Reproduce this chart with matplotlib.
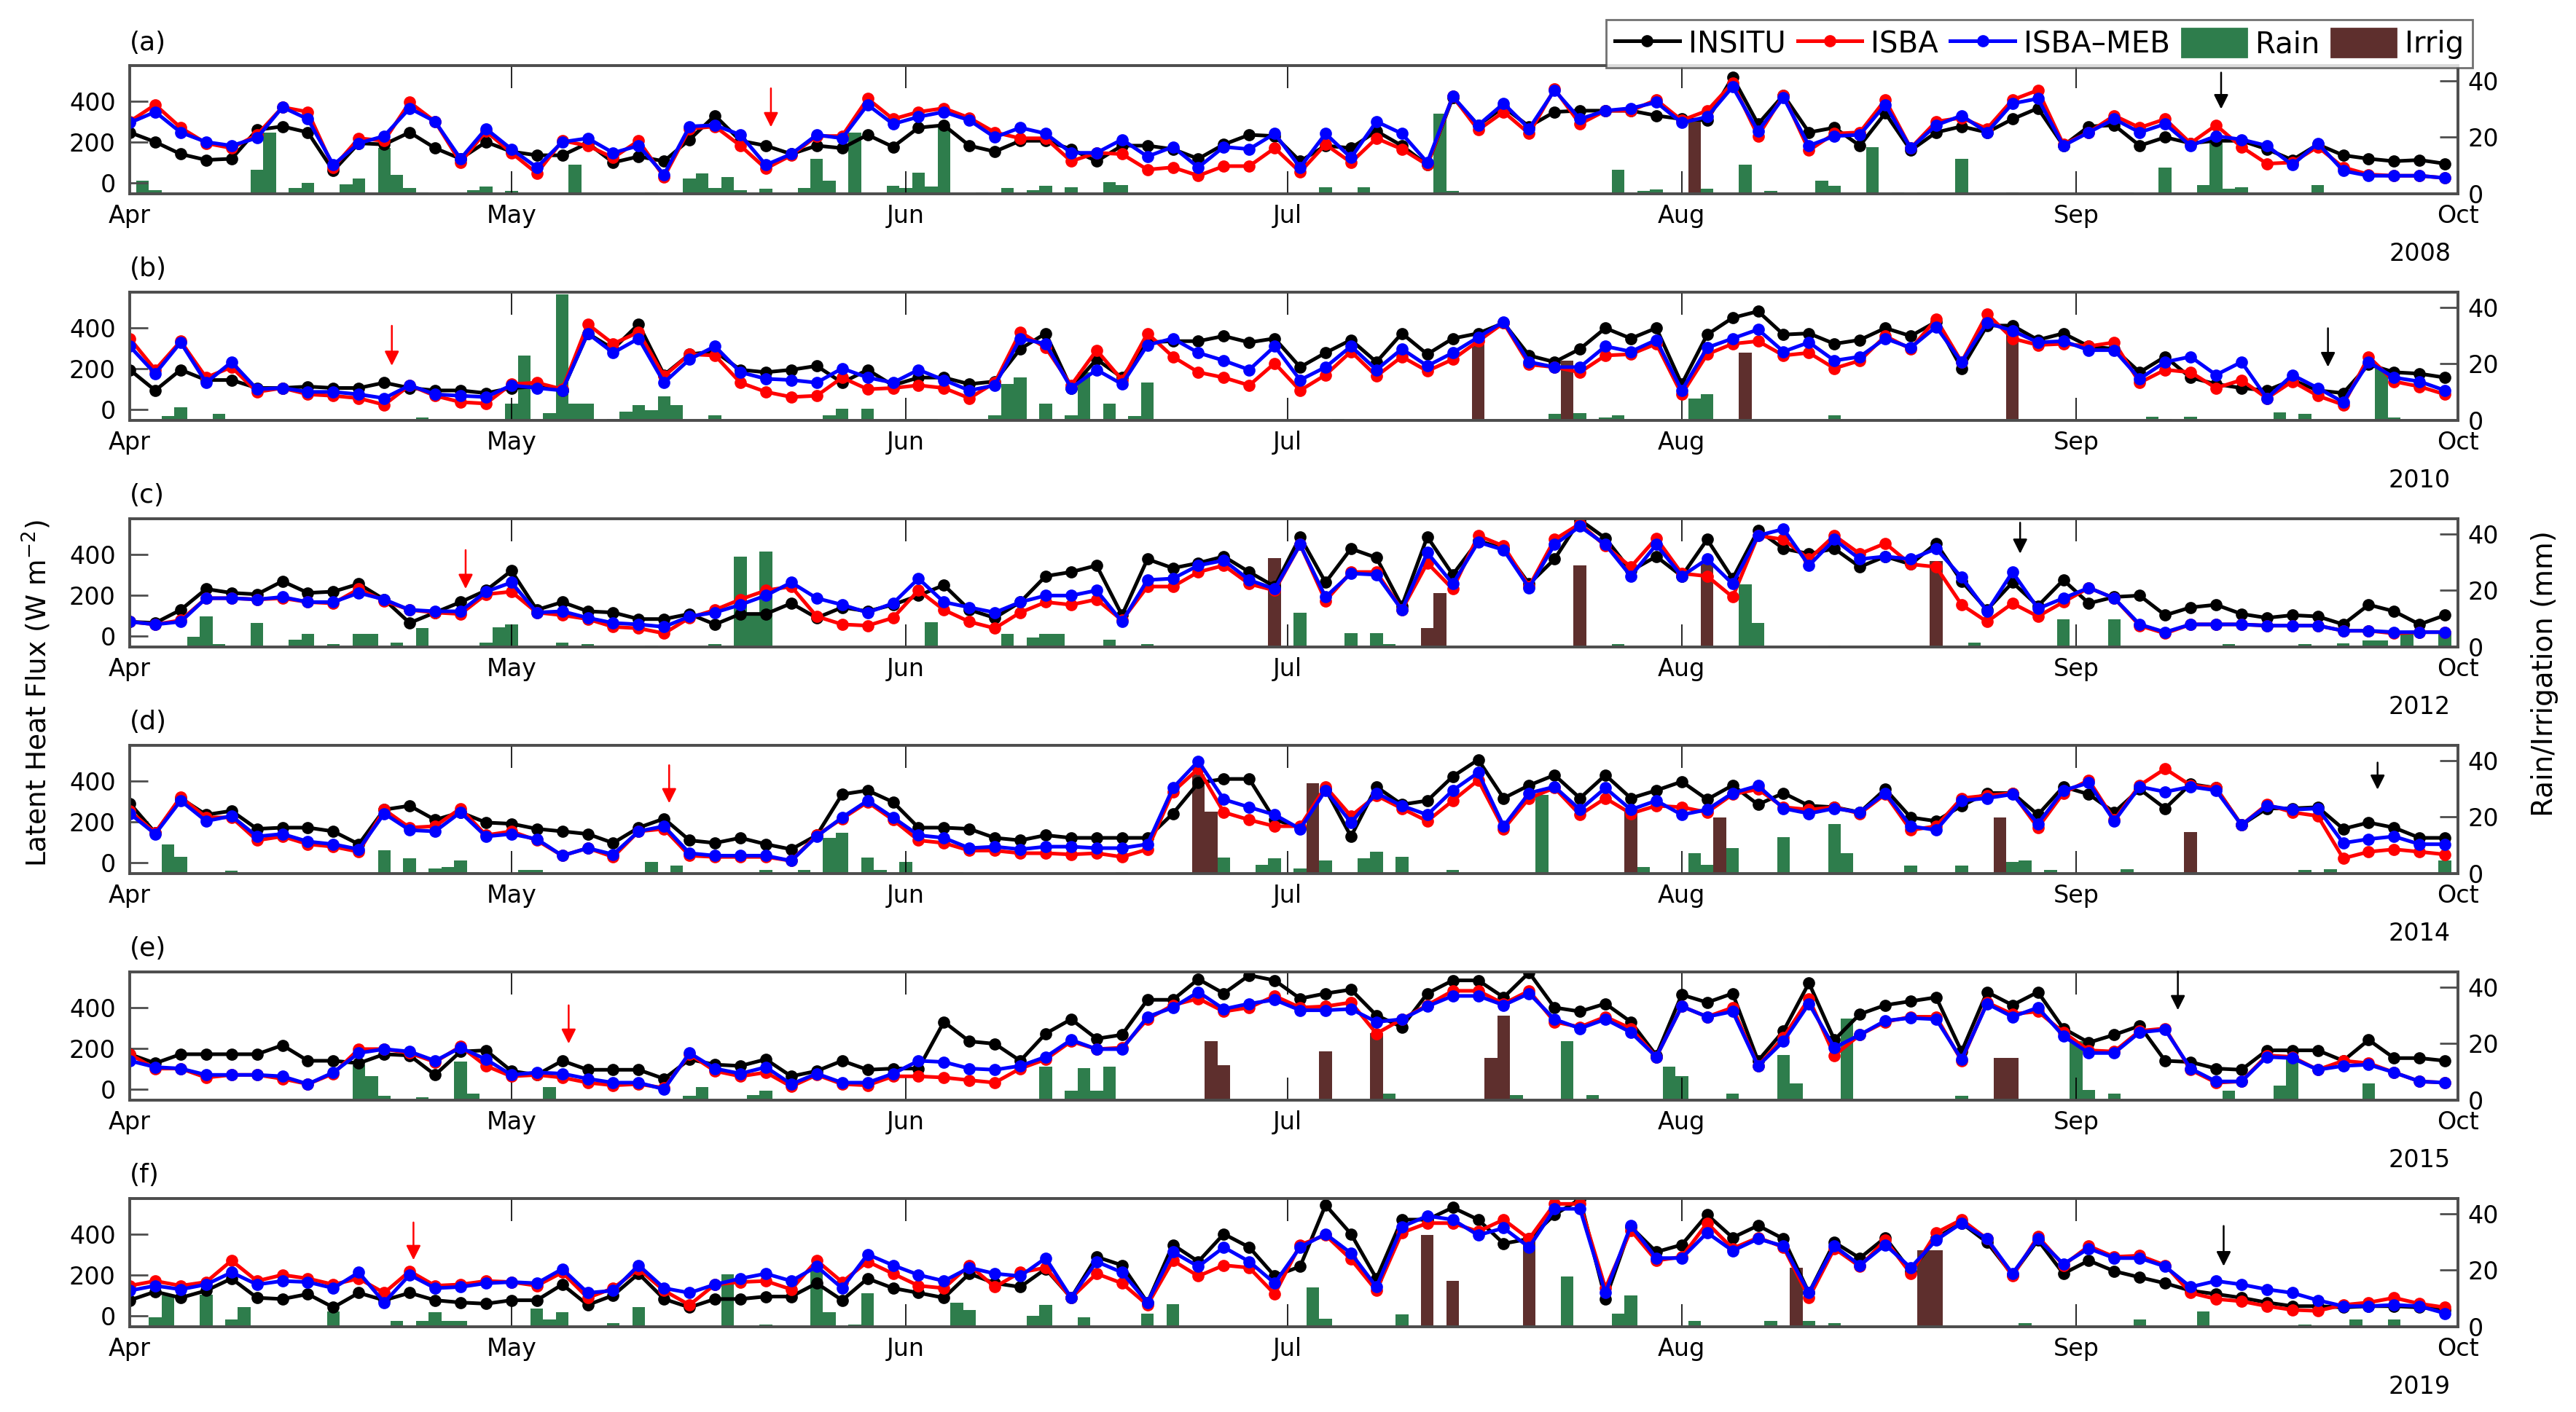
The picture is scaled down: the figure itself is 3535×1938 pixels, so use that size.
import numpy as np
import matplotlib
matplotlib.use('Agg')
import matplotlib.pyplot as plt
from matplotlib.lines import Line2D
from matplotlib.patches import Patch

plt.rcParams.update({'font.family': 'DejaVu Sans', 'font.size': 12})

# x axis: days since 1 April, one value every 2 days
days = np.arange(0, 183, 2)
month_days = [0, 30, 61, 91, 122, 153, 183]
month_labels = ['Apr', 'May', 'Jun', 'Jul', 'Aug', 'Sep', 'Oct']

# ---- 2008 (a)
insitu_2008 = [247,200,141,112,118,259,276,247,59,194,188,247,170,118,200,153,135,135,194,100,129,106,212,329,206,182,141,182,170,
               235,176,270,282,182,153,206,206,165,106,182,182,165,118,188,235,229,106,182,170,253,182,88,417,282,370,276,347,353,353,353,329,312,
               306,517,288,429,247,270,182,341,159,247,276,247,312,365,182,276,282,182,223,194,206,206,165,112,188,135,118,106,112,94]
isba_2008 = [300,382,270,194,170,235,370,347,76,218,206,394,300,100,253,147,47,206,182,123,206,29,265,276,182,70,135,229,229,
             412,312,347,365,318,247,218,218,106,147,141,65,76,35,82,82,170,53,188,100,218,165,88,423,259,347,241,459,288,353,353,406,306,
             353,488,229,429,159,241,247,406,170,300,318,265,406,453,188,247,329,270,312,194,282,176,94,100,176,76,41,35,35,24]
meb_2008 = [294,347,247,200,182,220,370,312,88,194,229,365,300,118,265,165,76,200,218,147,182,41,276,282,235,88,141,235,218,
            382,288,323,347,306,223,270,241,147,147,212,129,176,76,176,165,241,76,241,123,300,241,100,423,282,388,265,453,312,353,365,394,294,
            323,470,253,417,182,229,235,382,170,282,329,247,388,412,182,247,312,247,288,182,229,212,182,88,194,59,35,35,35,24]
rain_day_2008 = [1,2,10,11,13,14,17,18,20,21,22,23,27,28,30,35,41,44,45,46,47,48,50,53,54,55,57,60,61,62,
                 63,64,67,69,71,72,74,77,78,94,97,103,104,117,119,120,124,127,129,133,134,137,139,141,144,148,157,160,163,164,165,166,172]
rain_mm_2008 = [4.7,1.3,8.5,21.7,2.0,3.8,3.4,5.5,16.2,6.8,2.0,0.4,1.3,2.6,1.1,10.2,0.4,5.5,7.2,2.1,6.0,1.3,1.9,2.1,12.3,4.7,21.7,2.7,2.1,7.5,
                2.6,23.8,0.4,2.1,1.3,2.7,2.3,4.1,3.2,2.4,2.4,28.5,0.9,8.5,1.0,1.5,1.7,10.2,1.0,4.7,2.7,16.6,0.4,0.4,12.5,0.4,0.4,9.2,3.2,18.0,1.7,2.4,3.2]
irr_day_2008 = [123]
irr_mm_2008 = [26.6]

# ---- 2010 (b)
insitu_2010 = [194,93,194,144,144,105,105,112,105,105,131,105,93,93,80,105,112,93,372,296,417,169,270,283,194,182,194,213,131,194,
               118,156,156,124,137,296,372,105,245,156,328,334,334,359,328,347,
               207,277,340,232,372,270,347,372,423,264,232,296,398,347,398,124,366,448,480,366,372,321,340,398,359,429,201,410,410,340,
               372,309,296,182,258,156,124,105,93,144,93,80,220,182,175,156]
isba_2010 = [347,194,334,156,207,86,105,74,67,55,23,118,67,36,29,124,131,99,417,321,378,163,270,264,131,86,61,67,156,99,
             105,118,105,55,131,378,302,118,290,144,372,258,182,156,118,226,
             93,169,283,163,258,188,245,334,423,220,207,182,264,270,321,74,270,321,334,264,277,201,239,359,296,442,232,467,347,315,
             321,309,328,131,194,182,105,144,55,137,67,23,258,137,112,74]
meb_2010 = [309,175,328,131,232,99,105,86,86,74,55,118,74,67,61,118,105,93,372,277,347,131,245,309,182,150,144,131,201,156,
            131,194,144,93,118,347,321,105,194,124,315,347,277,239,194,309,
            144,207,309,194,296,213,277,353,429,232,207,207,309,283,340,93,302,347,391,283,328,239,258,347,302,404,232,423,385,328,
            334,290,290,150,232,258,169,232,55,169,105,36,232,156,137,93]
rain_day_2010 = [3,4,7,23,30,31,33,34,35,36,38,39,40,41,42,43,46,55,56,58,61,62,63,68,69,70,72,74,75,77,
                 79,80,95,112,114,116,117,123,124,134,141,159,160,162,169,171,177,178]
rain_mm_2010 = [1.4,4.6,2.3,1.1,6.0,23.0,2.5,44.6,6.0,6.0,0.5,3.0,5.5,3.7,8.6,5.5,1.8,1.8,4.0,4.0,0.5,0.5,0.5,1.8,12.9,15.2,6.0,1.8,17.0,6.0,
                1.4,13.3,0.5,2.3,2.5,0.9,1.8,7.8,9.2,1.8,0.5,1.2,0.5,1.2,2.8,2.3,18.4,0.9]
irr_day_2010 = [106,113,127,148]
irr_mm_2010 = [27.1,21.2,23.9,34.0]

# ---- 2012 (c)
insitu_2012 = [70,64,128,230,211,204,268,211,217,255,179,64,115,166,223,319,128,166,121,115,83,83,108,57,108,108,160,89,140,121,
               153,198,249,128,89,166,293,313,345,102,376,332,357,389,313,242,
               485,262,427,383,147,485,300,466,427,255,376,568,478,319,389,293,472,281,517,427,402,427,338,389,351,453,268,128,262,147,
               274,160,191,198,102,140,153,108,89,102,96,57,153,121,57,102]
isba_2012 = [70,57,77,185,185,179,185,166,160,230,172,128,115,108,204,217,115,102,83,45,38,13,89,128,179,223,242,96,57,51,
             89,223,128,70,38,115,166,153,179,77,242,242,313,345,255,223,
             447,172,313,313,128,357,230,491,440,242,472,549,440,338,478,306,293,191,491,472,376,491,402,453,351,338,153,70,160,96,
             166,236,185,51,13,57,57,57,51,51,51,26,26,13,19,19]
meb_2012 = [70,57,70,185,185,179,191,166,166,211,179,128,121,121,217,262,115,121,89,64,57,45,96,115,153,198,262,185,153,115,
            160,281,166,140,115,166,198,198,223,70,274,281,345,370,274,230,
            447,191,306,300,128,408,255,459,421,236,447,536,447,293,447,293,376,255,491,523,345,472,376,389,376,427,287,121,313,134,
            185,236,185,57,19,57,57,57,51,51,51,26,26,19,19,19]
rain_day_2012 = [5,6,7,10,13,14,16,18,19,21,23,28,29,30,34,36,41,46,48,49,50,63,69,71,72,73,77,80,92,96,
                 98,99,117,127,128,134,145,152,156,165,171,174,176,177,179,182]
rain_mm_2012 = [3.6,10.7,1.1,8.4,2.5,4.7,1.1,4.7,4.7,1.6,6.7,1.6,7.0,7.9,1.6,1.1,0.5,1.1,32.1,11.1,33.9,8.8,4.7,3.4,4.7,4.7,2.5,1.1,12.0,4.8,
                4.8,0.9,1.1,22.1,8.4,0.5,1.6,9.8,9.8,1.1,0.9,1.3,2.2,2.2,5.7,4.8]
irr_day_2012 = [90,102,103,114,124,142]
irr_mm_2012 = [31.6,6.6,19.2,29.0,29.5,30.4]

# ---- 2014 (d)
insitu_2014 = [290,146,315,234,253,165,171,171,153,90,259,278,209,246,196,190,165,153,140,96,171,215,109,96,121,90,65,134,334,353,
               296,171,171,165,121,109,134,121,121,121,121,240,390,409,409,210,
               171,359,128,371,284,303,421,503,315,378,428,315,428,315,353,396,309,378,284,340,278,271,246,359,221,203,278,340,340,234,
               371,334,246,359,265,384,365,184,265,265,271,165,196,171,121,121]
isba_2014 = [253,146,321,221,221,109,128,90,78,53,259,171,178,265,134,153,109,34,71,28,153,165,34,28,28,28,9,134,215,296,
             209,109,96,59,59,46,46,40,46,28,65,346,459,246,209,178,
             178,371,228,328,265,203,303,403,165,315,365,234,315,240,278,271,246,334,359,271,259,271,240,334,159,178,315,328,340,171,
             340,403,209,378,459,378,365,184,284,246,228,21,53,65,53,40]
meb_2014 = [240,140,303,203,228,128,140,103,90,65,240,159,153,246,128,140,115,34,71,40,153,178,46,34,34,34,9,128,221,303,
            221,134,121,71,78,65,78,78,71,71,90,365,496,309,271,234,
            165,353,196,340,278,234,353,440,178,340,371,259,365,259,303,234,259,340,376,265,240,265,246,340,178,159,303,315,334,190,
            353,390,203,371,346,371,353,184,278,259,265,96,115,128,90,90]
rain_day_2014 = [3,4,8,20,22,24,25,26,27,31,32,41,43,50,53,55,56,58,59,61,65,78,86,89,90,92,94,97,98,100,
                 104,111,119,123,124,126,130,134,135,140,144,148,149,151,157,171,173,182]
rain_mm_2014 = [10.3,5.8,0.9,8.1,5.4,1.8,2.2,4.5,0.4,1.3,1.3,4.0,2.9,1.2,1.3,12.6,14.4,5.7,1.3,4.0,0.4,0.4,5.7,3.1,5.4,1.8,4.5,5.4,7.6,5.8,
                1.3,27.9,2.2,7.2,3.1,9.0,13.0,17.5,7.2,2.7,2.7,4.0,4.5,1.2,1.6,1.2,1.6,4.5]
irr_day_2014 = [84,85,93,118,125,147,162]
irr_mm_2014 = [35.0,22.0,31.9,22.0,19.8,19.8,14.8]

# ---- 2015 (e)
insitu_2015 = [171,127,171,171,171,171,215,139,139,127,171,165,70,184,190,89,70,139,95,95,95,51,146,120,114,146,63,89,139,95,
               101,101,329,234,222,139,272,342,247,266,437,437,538,468,557,532,
               443,468,487,361,304,468,532,532,449,570,399,380,418,329,165,462,424,468,139,285,519,241,367,411,430,449,184,475,411,475,
               297,228,266,310,139,133,101,95,190,190,190,139,241,152,152,139]
isba_2015 = [171,101,101,57,70,70,51,25,76,196,196,177,133,209,114,63,70,57,32,19,25,6,171,89,63,82,13,70,25,19,
             63,63,57,44,32,101,146,234,196,203,342,411,443,380,399,456,
             399,405,424,272,342,411,481,481,418,481,329,304,354,297,158,405,354,399,114,253,443,165,266,329,354,354,139,424,367,380,
             278,190,184,285,297,95,32,38,165,158,95,139,127,82,38,32]
meb_2015 = [139,108,101,70,70,70,63,25,82,177,196,184,139,203,146,70,82,76,51,32,32,0,177,101,76,108,25,76,32,32,
            76,139,133,101,95,114,158,241,196,196,354,399,475,392,418,437,
            386,386,392,329,342,405,456,456,411,468,342,297,342,278,158,405,354,380,114,234,418,203,266,335,348,342,146,418,354,399,
            260,177,177,278,291,101,38,38,158,152,95,114,120,82,38,32]
rain_day_2015 = [18,19,20,23,26,27,31,33,44,45,49,50,52,72,74,75,76,77,99,109,
                 113,115,121,122,126,130,131,135,144,153,154,156,165,169,170,176]
rain_mm_2015 = [12.3,8.6,1.4,0.9,13.6,2.3,0.5,4.5,1.4,4.5,1.8,3.2,0.5,11.8,3.2,11.4,3.2,11.8,2.3,1.8,
                20.9,1.8,11.8,8.6,2.3,15.9,5.9,29.0,1.4,20.9,3.6,2.3,3.2,5.0,15.5,5.9]
irr_day_2015 = [85,86,94,98,107,108,147,148]
irr_mm_2015 = [20.9,12.3,17.3,23.6,15.0,30.0,15.0,15.0]

# ---- 2019 (f)
insitu_2019 = [76,118,88,123,182,88,82,106,41,112,76,112,76,65,59,76,76,153,53,100,206,82,41,82,82,94,94,159,76,182,
               135,112,88,206,159,141,229,88,288,247,65,347,265,400,335,194,
               241,541,400,182,470,470,529,470,353,376,494,570,82,435,312,347,494,382,441,376,112,359,282,382,218,382,453,359,200,370,
               206,270,218,188,159,123,106,88,65,47,47,41,47,47,41,29]
isba_2019 = [147,170,147,165,270,170,200,182,153,182,112,218,147,153,170,165,147,212,88,135,229,123,53,153,165,170,129,270,165,265,
             206,147,135,247,141,212,235,88,206,159,53,270,194,247,235,106,
             347,394,276,123,406,453,453,412,470,376,547,547,135,418,270,288,453,329,382,335,88,329,241,370,206,406,470,376,194,388,
             247,341,288,294,247,112,82,71,47,29,24,53,65,88,59,41]
meb_2019 = [123,147,129,153,212,153,170,165,135,212,65,200,135,141,159,165,159,229,112,123,247,135,112,153,182,206,170,241,135,300,
            247,200,170,235,206,194,282,88,265,212,65,312,241,335,265,159,
            335,400,306,141,435,488,470,394,429,335,523,523,112,441,282,282,406,318,376,341,112,341,247,347,235,370,453,376,206,376,
            253,329,282,282,241,141,170,153,129,112,76,47,47,53,47,12]
rain_day_2019 = [2,3,6,8,9,16,21,23,24,25,26,32,33,34,38,40,47,50,54,55,57,58,65,66,71,72,75,80,82,93,
                 94,100,110,113,117,118,123,129,132,134,149,158,163,171,175,178]
rain_mm_2019 = [3.4,11.0,11.4,2.5,6.8,5.5,2.1,2.1,5.1,2.1,2.1,6.4,2.5,5.1,1.3,6.8,18.6,0.8,19.9,5.1,0.8,11.9,8.5,5.9,3.8,7.6,3.4,4.7,8.0,14.0,
                2.7,4.4,3.0,17.8,4.7,11.0,2.1,2.1,1.9,1.3,1.3,2.5,5.3,0.7,2.5,2.5]
irr_day_2019 = [102,104,110,131,141,142]
irr_mm_2019 = [32.6,16.1,31.8,20.8,27.1,27.1]

# arrows: day, start and end (W m-2)
red_arrow_day = [50.4, 20.6, 26.4, 42.4, 34.5, 22.3]
red_arrow_from = [482, 429, 440, 496, 430, 476]
red_arrow_to = [253, 194, 211, 271, 203, 253]
blk_arrow_day = [164.4, 172.8, 148.6, 176.7, 161.0, 164.6]
blk_arrow_from = [559, 417, 574, 509, 595, 459]
blk_arrow_to = [341, 188, 383, 337, 367, 223]

panel_tags = ['(a)', '(b)', '(c)', '(d)', '(e)', '(f)']
years = ['2008', '2010', '2012', '2014', '2015', '2019']
insitu = [insitu_2008, insitu_2010, insitu_2012, insitu_2014, insitu_2015, insitu_2019]
isba = [isba_2008, isba_2010, isba_2012, isba_2014, isba_2015, isba_2019]
meb = [meb_2008, meb_2010, meb_2012, meb_2014, meb_2015, meb_2019]
rain_day = [rain_day_2008, rain_day_2010, rain_day_2012, rain_day_2014, rain_day_2015, rain_day_2019]
rain_mm = [rain_mm_2008, rain_mm_2010, rain_mm_2012, rain_mm_2014, rain_mm_2015, rain_mm_2019]
irr_day = [irr_day_2008, irr_day_2010, irr_day_2012, irr_day_2014, irr_day_2015, irr_day_2019]
irr_mm = [irr_mm_2008, irr_mm_2010, irr_mm_2012, irr_mm_2014, irr_mm_2015, irr_mm_2019]

c_rain = '#2e7d4c'
c_irr = '#5e2f2d'
spine_c = '0.3'
lw, ms = 1.8, 5.0

fig = plt.figure(figsize=(17.675, 9.69), dpi=200)
left, width = 79/1568, 1417/1568
h = 78/860

for i in range(6):
    top = 1 - (40 + 138*i)/860
    ax = fig.add_axes([left, top - h, width, h])
    ax2 = ax.twinx()
    ax2.bar(rain_day[i], rain_mm[i], width=1.0, color=c_rain)
    ax2.bar(irr_day[i], irr_mm[i], width=1.0, color=c_irr)
    ax.plot(days, insitu[i], '-o', color='k', lw=lw, ms=ms)
    ax.plot(days, isba[i], '-o', color='#ff0000', lw=lw, ms=ms)
    ax.plot(days, meb[i], '-o', color='#0000ff', lw=lw, ms=ms)
    ax.set_zorder(ax2.get_zorder() + 1)
    ax.patch.set_visible(False)

    ax.set_xlim(0, 183)
    ax.set_ylim(-53, 573)
    ax2.set_ylim(0, 45.4)
    ax.set_xticks(month_days)
    ax.set_xticklabels(month_labels)
    ax.set_yticks([0, 200, 400])
    ax2.set_yticks([0, 20, 40])
    ax.tick_params(axis='x', direction='in', length=11, width=0.6, top=True, pad=5, labelsize=12)
    ax.tick_params(axis='y', direction='in', length=9, width=1.0, pad=7, labelsize=12, color=spine_c)
    ax2.tick_params(axis='y', direction='in', length=9, width=1.0, pad=5, labelsize=12, color=spine_c)
    for a in (ax, ax2):
        for s in a.spines.values():
            s.set_color(spine_c)
            s.set_linewidth(1.3)

    ax.annotate('', xy=(red_arrow_day[i], red_arrow_to[i]), xytext=(red_arrow_day[i], red_arrow_from[i]),
                arrowprops=dict(arrowstyle='-|>', color='#ff0000', lw=0.9, mutation_scale=15), annotation_clip=False)
    ax.annotate('', xy=(blk_arrow_day[i], blk_arrow_to[i]), xytext=(blk_arrow_day[i], blk_arrow_from[i]),
                arrowprops=dict(arrowstyle='-|>', color='k', lw=0.9, mutation_scale=15), annotation_clip=False)

    ax.text(0.0, 1.18, panel_tags[i], transform=ax.transAxes, ha='left', va='center', fontsize=13)
    ax.text(0.997, -0.47, years[i], transform=ax.transAxes, ha='right', va='center', fontsize=12)

handles = [Line2D([], [], color='k', marker='o', lw=lw, ms=ms, label='INSITU'),
           Line2D([], [], color='#ff0000', marker='o', lw=lw, ms=ms, label='ISBA'),
           Line2D([], [], color='#0000ff', marker='o', lw=lw, ms=ms, label='ISBA\u2013MEB'),
           Patch(color=c_rain, label='Rain'),
           Patch(color=c_irr, label='Irrig')]
leg = fig.legend(handles=handles, ncol=5, loc='upper right', bbox_to_anchor=(1505/1568, 1 - 12/860),
                 frameon=True, fancybox=False, edgecolor=spine_c, fontsize=14.5, handlelength=2.2,
                 handleheight=1.1, columnspacing=0.4, handletextpad=0.3, borderpad=0.3, borderaxespad=0)
leg.get_frame().set_linewidth(1.0)

fig.text(22/1568, 0.509, 'Latent Heat Flux (W m$^{-2}$)', rotation=90, ha='center', va='center', fontsize=13.5)
fig.text(1549/1568, 0.523, 'Rain/Irrigation (mm)', rotation=90, ha='center', va='center', fontsize=14)

fig.savefig('out.png', dpi=200)
